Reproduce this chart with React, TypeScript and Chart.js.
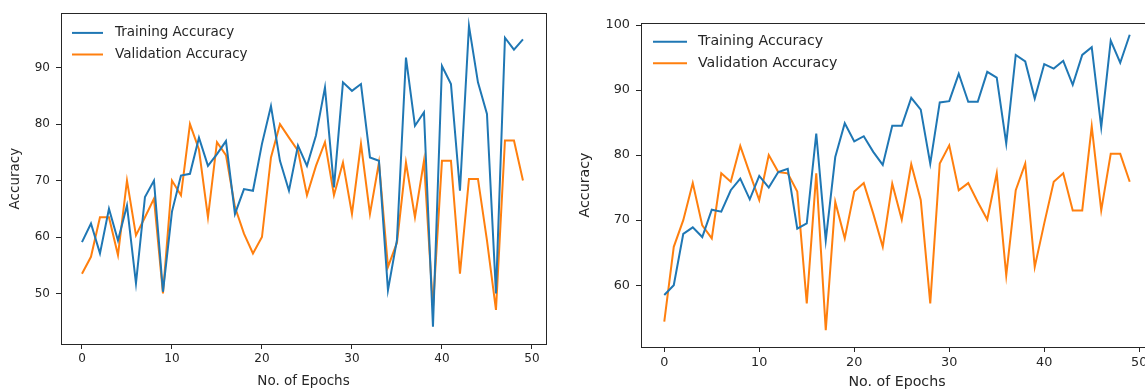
import React, { useEffect, useRef } from "react";
import { Chart, registerables } from "chart.js";

Chart.register(...registerables);

const EPOCHS = [
  0, 1, 2, 3, 4, 5, 6, 7, 8, 9, 10, 11, 12, 13, 14, 15, 16, 17, 18, 19, 20, 21, 22, 23, 24,
  25, 26, 27, 28, 29, 30, 31, 32, 33, 34, 35, 36, 37, 38, 39, 40, 41, 42, 43, 44, 45, 46, 47, 48, 49,
];

const TRAIN_A = [
  59.1, 62.4, 57.1, 65.0, 59.4, 65.6, 51.8, 67.1, 70.0, 50.3, 64.5, 70.9, 71.2, 77.6, 72.6, 74.7,
  77.0, 64.1, 68.5, 68.2, 76.5, 83.2, 73.5, 68.2, 76.2, 72.6, 78.0, 86.5, 68.8, 87.4, 85.9, 87.1,
  74.1, 73.5, 50.6, 59.5, 91.8, 79.7, 82.1, 44.1, 90.3, 87.1, 68.2, 97.4, 87.4, 81.8, 50.0, 95.3,
  93.2, 95.0,
];
const VAL_A = [
  53.5, 56.5, 63.5, 63.5, 56.8, 70.0, 60.3, 63.5, 66.8, 50.0, 70.0, 67.4, 80.0, 75.5, 63.5, 76.8,
  74.5, 65.3, 60.6, 57.1, 60.0, 74.1, 80.0, 77.6, 75.3, 67.4, 72.6, 76.8, 67.4, 73.2, 64.1, 76.5,
  64.1, 73.2, 54.7, 59.0, 73.2, 63.5, 73.5, 47.5, 73.5, 73.5, 53.5, 70.3, 70.3, 59.4, 47.1, 77.1,
  77.1, 70.0,
];
const TRAIN_B = [
  58.5, 60.0, 67.9, 68.9, 67.4, 71.6, 71.3, 74.6, 76.4, 73.2, 76.8, 75.0, 77.4, 77.9, 68.7, 69.5,
  83.3, 66.9, 79.7, 84.9, 82.1, 82.9, 80.5, 78.5, 84.5, 84.5, 88.8, 87.0, 78.7, 88.1, 88.3, 92.5,
  88.2, 88.2, 92.8, 91.9, 81.8, 95.4, 94.4, 88.7, 94.0, 93.3, 94.5, 90.8, 95.4, 96.6, 84.3, 97.6,
  94.2, 98.5,
];
const VAL_B = [
  54.4, 65.9, 70.0, 75.7, 69.2, 67.2, 77.2, 75.9, 81.4, 77.2, 73.1, 80.0, 77.4, 77.2, 74.4, 57.2,
  77.2, 53.1, 72.8, 67.2, 74.4, 75.7, 71.0, 65.9, 75.6, 70.1, 78.6, 73.1, 57.2, 78.7, 81.5, 74.6,
  75.7, 72.8, 70.1, 77.2, 61.5, 74.6, 78.7, 62.8, 69.5, 75.9, 77.2, 71.5, 71.5, 84.4, 71.5, 80.2,
  80.2, 75.9,
];

const X_TICKS = [0, 10, 20, 30, 40, 50];
const Y_TICKS_A = [50, 60, 70, 80, 90];
const Y_TICKS_B = [60, 70, 80, 90, 100];

const SERIES_LABELS = ["Training Accuracy", "Validation Accuracy"];
const X_TITLE = "No. of Epochs";
const Y_TITLE = "Accuracy";

const BLUE = "#1f77b4";
const ORANGE = "#ff7f0e";
const INK = "#262626";
const FONT = "'DejaVu Sans', sans-serif";

type Cfg = {
  train: number[];
  val: number[];
  yTicks: number[];
  yMin: number;
  yMax: number;
  xMin: number;
  xMax: number;
  width: number;
  height: number;
  padTop: number;
  padRight: number;
  yAxisWidth: number;
  xAxisHeight: number;
  tickFont: number;
  titleFont: number;
  legendFont: number;
  legend: { l1: number; l2: number; tx: number; r1: number; r2: number };
  yTitleOffset: number;
  xTitleOffset: number;
};

function AccuracyChart(props: { cfg: Cfg; left: number }) {
  const ref = useRef<HTMLCanvasElement | null>(null);
  const { cfg, left } = props;

  useEffect(() => {
    if (!ref.current) return;
    const frameAndLegend = {
      id: "frameAndLegend",
      afterDatasetsDraw(chart: any) {
        const { ctx, chartArea } = chart;
        const { left: l, top: t, right: r, bottom: b } = chartArea;
        ctx.save();
        ctx.strokeStyle = INK;
        ctx.lineWidth = 1;
        ctx.strokeRect(Math.round(l) + 0.5, Math.round(t) + 0.5, Math.round(r - l), Math.round(b - t));
        const lg = cfg.legend;
        const rows = [
          { color: BLUE, y: t + lg.r1, text: chart.data.datasets[0].label },
          { color: ORANGE, y: t + lg.r2, text: chart.data.datasets[1].label },
        ];
        ctx.font = `${cfg.legendFont}px ${FONT}`;
        ctx.textBaseline = "middle";
        ctx.textAlign = "left";
        for (const row of rows) {
          ctx.strokeStyle = row.color;
          ctx.lineWidth = 2;
          ctx.beginPath();
          ctx.moveTo(l + lg.l1, row.y);
          ctx.lineTo(l + lg.l2, row.y);
          ctx.stroke();
          ctx.fillStyle = INK;
          ctx.fillText(row.text, l + lg.tx, row.y);
        }
        ctx.restore();
      },
    };

    const chart = new Chart(ref.current, {
      type: "line",
      data: {
        datasets: [
          {
            label: SERIES_LABELS[0],
            data: cfg.train.map((y, i) => ({ x: EPOCHS[i], y })),
            borderColor: BLUE,
            backgroundColor: BLUE,
            borderWidth: 2,
            pointRadius: 0,
            tension: 0,
          },
          {
            label: SERIES_LABELS[1],
            data: cfg.val.map((y, i) => ({ x: EPOCHS[i], y })),
            borderColor: ORANGE,
            backgroundColor: ORANGE,
            borderWidth: 2,
            pointRadius: 0,
            tension: 0,
          },
        ],
      },
      options: {
        animation: false,
        responsive: false,
        devicePixelRatio: 1,
        layout: { padding: { top: cfg.padTop, right: cfg.padRight, left: 0, bottom: 0 } },
        plugins: { legend: { display: false }, tooltip: { enabled: false } },
        scales: {
          x: {
            type: "linear",
            min: cfg.xMin,
            max: cfg.xMax,
            afterBuildTicks: (s: any) => {
              s.ticks = X_TICKS.map((v) => ({ value: v }));
            },
            afterFit: (s: any) => {
              s.height = cfg.xAxisHeight;
            },
            grid: { drawOnChartArea: false, drawTicks: true, tickLength: 5, color: INK },
            border: { display: true, color: INK },
            ticks: { color: INK, font: { family: FONT, size: cfg.tickFont }, padding: 3, maxRotation: 0 },
            title: {
              display: true,
              text: X_TITLE,
              color: INK,
              font: { family: FONT, size: cfg.titleFont },
              padding: { top: 0, bottom: cfg.xTitleOffset },
            },
          },
          y: {
            type: "linear",
            min: cfg.yMin,
            max: cfg.yMax,
            afterBuildTicks: (s: any) => {
              s.ticks = cfg.yTicks.map((v) => ({ value: v }));
            },
            afterFit: (s: any) => {
              s.width = cfg.yAxisWidth;
            },
            grid: { drawOnChartArea: false, drawTicks: true, tickLength: 5, color: INK },
            border: { display: true, color: INK },
            ticks: { color: INK, font: { family: FONT, size: cfg.tickFont }, padding: 6 },
            title: {
              display: true,
              text: Y_TITLE,
              color: INK,
              font: { family: FONT, size: cfg.titleFont },
              padding: { top: cfg.yTitleOffset, bottom: 0 },
            },
          },
        },
      },
      plugins: [frameAndLegend],
    } as any);
    return () => chart.destroy();
  }, [cfg]);

  return (
    <canvas
      ref={ref}
      width={cfg.width}
      height={cfg.height}
      style={{ position: "absolute", left, top: 0, width: cfg.width, height: cfg.height, display: "block" }}
    />
  );
}

const CFG_A: Cfg = {
  train: TRAIN_A,
  val: VAL_A,
  yTicks: Y_TICKS_A,
  yMin: 41.05,
  yMax: 99.65,
  xMin: -2.33,
  xMax: 51.56,
  width: 570,
  height: 392,
  padTop: 12,
  padRight: 24,
  yAxisWidth: 61,
  xAxisHeight: 48,
  tickFont: 12,
  titleFont: 13.5,
  legendFont: 13.5,
  legend: { l1: 11, l2: 42, tx: 54, r1: 19.7, r2: 41.3 },
  yTitleOffset: 7,
  xTitleOffset: 2,
};

const CFG_B: Cfg = {
  train: TRAIN_B,
  val: VAL_B,
  yTicks: Y_TICKS_B,
  yMin: 50.5,
  yMax: 100.31,
  xMin: -2.45,
  xMax: 51.45,
  width: 600,
  height: 392,
  padTop: 23,
  padRight: 17,
  yAxisWidth: 71,
  xAxisHeight: 45,
  tickFont: 12.8,
  titleFont: 14.2,
  legendFont: 14.2,
  legend: { l1: 12, l2: 46, tx: 57, r1: 18.7, r2: 40.3 },
  yTitleOffset: 7,
  xTitleOffset: 1,
};

export default function App() {
  return (
    <div
      style={{
        position: "absolute",
        left: 0,
        top: 0,
        width: 1145,
        height: 392,
        overflow: "hidden",
        background: "#ffffff",
      }}
    >
      <AccuracyChart cfg={CFG_A} left={0} />
      <AccuracyChart cfg={CFG_B} left={570} />
    </div>
  );
}
